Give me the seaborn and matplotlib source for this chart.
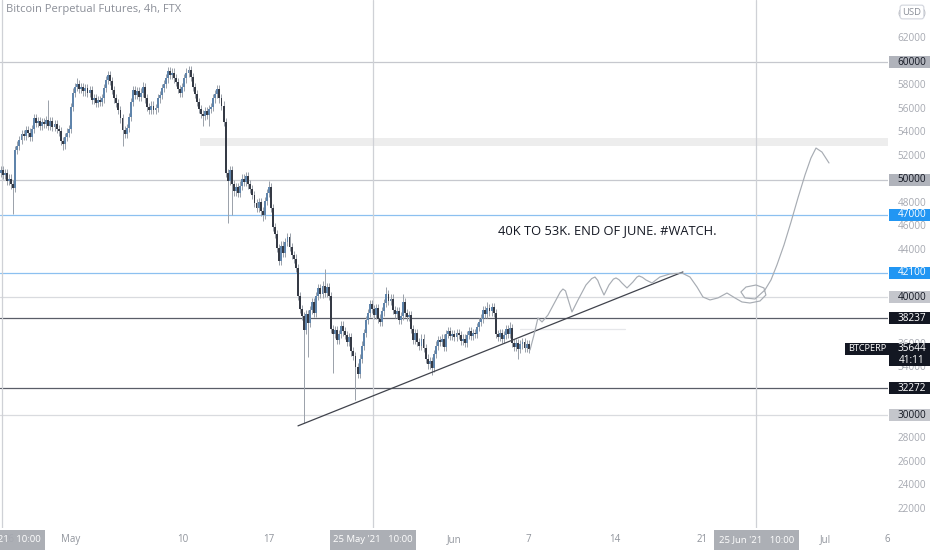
import numpy as np
import pandas as pd
import matplotlib.pyplot as plt
import matplotlib.patches as mpatches
import matplotlib.transforms as mtransforms
import seaborn as sns

# Time is in days from 1 May 2021, prices in thousand USD
first_candle_day = -5.667      # 25 Apr '21 08:00
candle_step = 1 / 6            # 4h bars
open_first_k = 50.6
closes_k = [
    50.8, 50.4, 50.6, 49.9, 50.1, 49.6, 49.3, 52.5, 52.9, 53.4,
    53.9, 53.7, 54.2, 54.0, 53.6, 54.3, 55.2, 54.8, 55.0, 54.6,
    54.9, 54.7, 55.1, 54.6, 55.0, 54.5, 54.7, 54.3, 54.1, 53.3,
    53.0, 53.6, 54.0, 54.3, 56.2, 57.4, 57.9, 58.1, 57.7, 57.9,
    57.5, 57.8, 57.4, 57.6, 56.8, 56.9, 56.5, 56.8, 56.6, 56.9,
    57.8, 58.5, 58.9, 58.4, 57.6, 56.9, 56.5, 55.9, 55.2, 54.2,
    53.9, 54.4, 55.3, 56.6, 57.6, 57.2, 57.5, 57.0, 57.4, 57.9,
    56.9, 56.2, 55.9, 56.3, 55.9, 56.1, 56.9, 57.2, 57.8, 58.1,
    58.6, 59.2, 58.9, 59.1, 58.6, 58.3, 57.7, 57.4, 57.9, 58.6,
    59.1, 59.3, 58.7, 57.9, 57.3, 56.6, 56.0, 55.6, 55.4, 55.8,
    55.5, 56.0, 56.2, 56.9, 57.3, 57.7, 56.9, 56.3, 54.9, 50.6,
    49.9, 50.8, 49.6, 49.0, 49.4, 48.9, 49.5, 50.1, 49.8, 50.3,
    49.6, 49.2, 48.7, 48.0, 47.6, 48.1, 47.3, 47.0, 48.2, 48.9,
    49.4, 47.6, 46.0, 45.4, 44.2, 43.1, 44.4, 43.8, 44.7, 45.1,
    44.3, 43.6, 43.3, 42.5, 40.1, 39.0, 38.4, 37.2, 38.6, 37.8,
    38.9, 39.6, 38.7, 40.1, 40.8, 40.3, 41.0, 40.4, 40.9, 40.1,
    37.3, 36.9, 37.2, 36.4, 36.9, 37.6, 37.1, 36.8, 36.2, 36.6,
    35.4, 35.0, 34.1, 33.5, 34.8, 35.9, 37.0, 38.1, 38.7, 39.4,
    39.0, 38.5, 39.1, 38.2, 37.9, 38.8, 39.5, 40.3, 39.7, 39.9,
    38.9, 38.6, 38.8, 38.1, 38.4, 39.6, 38.7, 38.3, 38.5, 37.3,
    36.4, 37.0, 36.2, 35.9, 36.5, 35.7, 34.8, 34.3, 34.6, 34.0,
    35.2, 35.9, 36.4, 36.2, 36.5, 35.8, 36.9, 37.1, 36.7, 36.9,
    36.6, 37.0, 36.8, 36.3, 36.5, 36.1, 36.8, 37.1, 36.7, 37.0,
    36.9, 37.5, 37.9, 38.2, 38.9, 38.6, 39.1, 38.8, 39.2, 38.7,
    36.9, 36.6, 37.0, 36.5, 36.8, 37.3, 36.9, 37.4, 36.1, 35.8,
    36.1, 35.6, 36.0, 36.2, 35.7, 36.0, 35.644,
]
# long wicks that stand out (candle index -> price)
spike_highs_k = {0: 51.1, 16: 55.6, 23: 56.8, 37: 58.6, 52: 59.2, 69: 58.3,
                 81: 59.5, 91: 59.7, 105: 58.0, 130: 49.9, 157: 42.4,
                 187: 40.9, 195: 40.3, 236: 39.6, 247: 37.9}
spike_lows_k = {6: 47.1, 30: 52.5, 59: 52.9, 98: 54.6, 101: 54.6, 110: 46.3,
                112: 47.0, 127: 46.5, 147: 29.3, 149: 34.9, 161: 33.6,
                172: 31.3, 209: 33.4, 251: 34.8}
wick_k = 0.35

levels = [60000, 50000, 47000, 42100, 40000, 38237, 32272, 30000]
level_kinds = ['grey', 'grey', 'blue', 'blue', 'light', 'dark', 'dark', 'light']

price_ticks = [64000, 62000, 58000, 56000, 54000, 52000, 48000, 46000,
               44000, 36000, 34000, 28000, 26000, 24000, 22000]

date_ticks = [-5, 0, 9, 16, 31, 37, 44, 51, 61, 66]
date_labels = ['26', 'May', '10', '17', 'Jun', '7', '14', '21', 'Jul', '6']

marker_days = [-5.583, 24.417, 55.417]
marker_labels = ["25 Apr '21   10:00", "25 May '21   10:00", "25 Jun '21   10:00"]

trend_days = [18.35, 49.47]
trend_k = [29.08, 42.16]

proj_days = [37.11, 37.43, 37.75, 38.08, 38.56, 39.21, 39.55, 39.77, 39.98, 40.10,
             40.50, 40.99, 41.63, 42.10, 42.36, 42.58, 42.76, 43.09, 43.49, 43.85,
             44.06, 44.30, 44.54, 44.95, 45.43, 45.75, 45.92, 46.20, 46.48, 46.97,
             47.61, 48.42, 49.39, 50.04, 50.61, 51.09, 51.66, 52.30, 53.03, 53.68,
             54.24, 54.89, 55.70, 56.18, 56.02, 55.38, 54.57, 54.16, 54.49, 55.30,
             56.10, 56.59, 57.07, 57.64, 58.21, 58.77, 59.34, 59.82, 60.23, 60.71,
             61.28]
proj_k = [35.53, 36.81, 38.25, 37.91, 38.50, 39.78, 40.45, 40.71, 40.55, 40.12,
          38.76, 39.78, 41.05, 41.60, 41.73, 41.45, 40.97, 40.20, 41.05, 41.55,
          41.65, 41.50, 41.22, 40.80, 41.31, 41.72, 41.82, 41.70, 41.48, 41.22,
          41.73, 41.99, 42.07, 41.73, 40.88, 40.03, 39.78, 39.95, 40.37, 39.95,
          39.61, 39.52, 39.69, 40.20, 40.80, 41.05, 40.88, 40.46, 39.95, 39.86,
          40.63, 41.48, 42.75, 44.45, 46.41, 48.45, 50.40, 51.84, 52.69, 52.35,
          51.42]

zone_k = (52.86, 53.54)
zone_start_day = 10.43
faint_days = [36.3, 44.8]
faint_k = 37.32

last_price = 35644
countdown = '41:11'

# ---- build candles ----
closes = np.array(closes_k) * 1000
opens = np.r_[open_first_k * 1000, closes[:-1]]
df = pd.DataFrame({'day': first_candle_day + np.arange(len(closes)) * candle_step,
                   'open': opens, 'close': closes})
df['high'] = df[['open', 'close']].max(axis=1) + wick_k * 1000
df['low'] = df[['open', 'close']].min(axis=1) - wick_k * 1000
for i, v in spike_highs_k.items():
    df.loc[i, 'high'] = max(df.loc[i, 'high'], v * 1000)
for i, v in spike_lows_k.items():
    df.loc[i, 'low'] = min(df.loc[i, 'low'], v * 1000)
up = df['close'] >= df['open']

# ---- figure ----
sns.set_style('white')
plt.rcParams['font.family'] = ['Open Sans', 'DejaVu Sans']

fig = plt.figure(figsize=(9.32, 5.5), dpi=100)
ax = fig.add_axes([0, 0.04, 888 / 932, 0.96])
x_lo, x_hi = -5.74, 66.05
ax.set_xlim(x_lo, x_hi)
ax.set_ylim(20400, 65270)
ax.set_axis_off()

# drawings under the candles
ax.add_patch(mpatches.Rectangle((zone_start_day, zone_k[0] * 1000), x_hi - zone_start_day,
                                (zone_k[1] - zone_k[0]) * 1000, facecolor='#ededed',
                                edgecolor='none', zorder=0))
line_col = {'grey': '#c6c8ce', 'blue': '#8cc0f0', 'light': '#d9dbdf', 'dark': '#5a5e68'}
for lv, kind in zip(levels, level_kinds):
    ax.axhline(lv, color=line_col[kind], lw=0.9, zorder=1)
for d in marker_days:
    ax.axvline(d, color='#cfd1d6', lw=0.9, zorder=1)
ax.plot(faint_days, [faint_k * 1000] * 2, color='#e6e7ea', lw=0.9, zorder=1)

# candles
ax.vlines(df['day'], df['low'], df['high'], color='#9aa1aa', lw=0.7, zorder=2)
body = (df['close'] - df['open']).abs().clip(lower=40)
ax.bar(df['day'], body, bottom=df[['open', 'close']].min(axis=1), width=0.155,
       color=np.where(up, '#5f84ab', '#353a45'), edgecolor='none', zorder=3)

# trend line and projected path
sns.lineplot(x=trend_days, y=np.array(trend_k) * 1000, color='#40434c', lw=0.9,
             ax=ax, zorder=4)
sns.lineplot(x=proj_days, y=np.array(proj_k) * 1000, sort=False, estimator=None,
             color='#a7acb3', lw=0.85, ax=ax, zorder=4)

ax.text(43.33, 45640, '40K TO 53K. END OF JUNE. #WATCH.', ha='center', va='center',
        fontsize=9.3, color='#131722')

# ---- price scale ----
right = mtransforms.blended_transform_factory(ax.transAxes, ax.transData)
for p in price_ticks:
    ax.text(1.027, p, str(p), transform=right, ha='center', va='center',
            fontsize=7.2, color='#a6a9b1', clip_on=False)

box_h = 1000
box_face = {'grey': '#b0b3bb', 'blue': '#2196f3', 'light': '#c4c6cc', 'dark': '#131722'}
box_text = {'grey': '#131722', 'blue': 'white', 'light': '#131722', 'dark': 'white'}


def tag(price, text, face, fg, x0=1.001, x1=1.047):
    ax.add_patch(mpatches.Rectangle((x0, price - box_h / 2), x1 - x0, box_h,
                                    transform=right, facecolor=face, edgecolor='none',
                                    clip_on=False, zorder=6))
    ax.text(1.027, price, text, transform=right, ha='center', va='center',
            color=fg, fontsize=7.2, clip_on=False, zorder=7)


for lv, kind in zip(levels, level_kinds):
    tag(lv, str(lv), box_face[kind], box_text[kind])

tag(last_price, str(last_price), '#131722', 'white', x0=845 / 888)
tag(last_price - box_h, countdown, '#131722', 'white')
ax.text(848 / 888, last_price, 'BTCPERP', transform=right, ha='left', va='center',
        color='white', fontsize=6.6, clip_on=False, zorder=7)

ax.text(1.027, 64250, 'USD', transform=right, ha='center', va='center', fontsize=6.8,
        color='#8a8e97', clip_on=False, zorder=7,
        bbox=dict(boxstyle='round,pad=0.25', facecolor='white', edgecolor='#d1d4dc', lw=0.8))

# ---- time scale ----
bottom = mtransforms.blended_transform_factory(ax.transData, ax.transAxes)
for d, lab in zip(date_ticks, date_labels):
    ax.text(d, -0.022, lab, transform=bottom, ha='center', va='center',
            fontsize=7.0, color='#90949c', clip_on=False)

half_w = 3.45
for d, lab in zip(marker_days, marker_labels):
    ax.add_patch(mpatches.Rectangle((d - half_w, -0.045), 2 * half_w, 0.042,
                                    transform=bottom, facecolor='#a6a9b0', alpha=0.93,
                                    edgecolor='none', clip_on=False, zorder=6))
    ax.text(d, -0.022, lab, transform=bottom, ha='center', va='center',
            fontsize=6.8, color='white', clip_on=False, zorder=7)

fig.text(0.006, 0.982, 'Bitcoin Perpetual Futures, 4h, FTX', fontsize=8,
         color='#8b8f98', va='center')

fig.savefig('out.png', dpi=100)
